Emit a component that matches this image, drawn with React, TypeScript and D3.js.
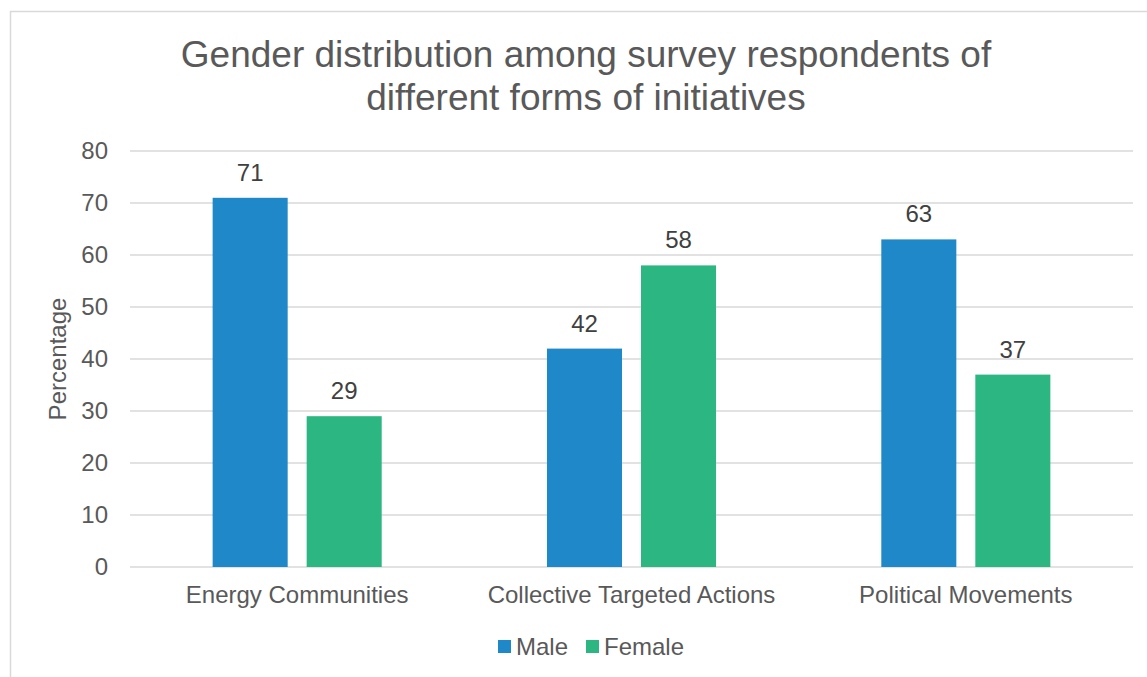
import React from "react";
import * as d3 from "d3";

const categories = ["Energy Communities", "Collective Targeted Actions", "Political Movements"];
const seriesNames = ["Male", "Female"];
const maleValues = [71, 42, 63];
const femaleValues = [29, 58, 37];
const yTicks = [0, 10, 20, 30, 40, 50, 60, 70, 80];
const titleLines = ["Gender distribution among survey respondents of", "different forms of initiatives"];
const yAxisTitle = "Percentage";

const colors = ["#1E88C8", "#2BB682"];
const FONT = "'Liberation Sans', Arial, sans-serif";
const TEXT = "#595959";
const GRID = "#D9D9D9";

export default function App() {
  const W = 1147, H = 677;
  const left = 130, right = 1133, top = 151, bottom = 567;
  const y = d3.scaleLinear().domain([0, 80]).range([bottom, top]);
  const x0 = d3.scaleBand<string>().domain(categories).range([left, right]).paddingInner(0).paddingOuter(0);
  const x1 = d3.scaleBand<string>().domain(seriesNames).range([0, x0.bandwidth()]).paddingInner(0.202).paddingOuter(0.879);
  const values = [maleValues, femaleValues];

  return (
    <svg width={W} height={H} style={{ position: "absolute", left: 0, top: 0, background: "#fff" }} fontFamily={FONT}>
      <rect x={0} y={0} width={W} height={H} fill="#fff" />
      <rect x={10.5} y={11.5} width={1180} height={700} fill="none" stroke={GRID} strokeWidth={1.5} />
      {titleLines.map((t, i) => (
        <text key={i} x={586} y={67 + i * 43} textAnchor="middle" fontSize={37} fill={TEXT}>{t}</text>
      ))}
      {yTicks.map((t) => (
        <g key={t}>
          <line x1={left} x2={right} y1={y(t)} y2={y(t)} stroke={GRID} strokeWidth={1.4} />
          <text x={108} y={y(t) + 8.3} textAnchor="end" fontSize={24} fill={TEXT}>{t}</text>
        </g>
      ))}
      <text transform={`translate(66,${(top + bottom) / 2}) rotate(-90)`} textAnchor="middle" fontSize={24} fill={TEXT}>{yAxisTitle}</text>
      {categories.map((c, ci) => (
        <g key={c}>
          {seriesNames.map((s, si) => {
            const v = values[si][ci];
            const bx = (x0(c) as number) + (x1(s) as number);
            return (
              <g key={s}>
                <rect x={bx} y={y(v)} width={x1.bandwidth()} height={y(0) - y(v)} fill={colors[si]} />
                <text x={bx + x1.bandwidth() / 2} y={y(v) - 17} textAnchor="middle" fontSize={24} fill="#404040">{v}</text>
              </g>
            );
          })}
          <text x={(x0(c) as number) + x0.bandwidth() / 2} y={603} textAnchor="middle" fontSize={24} fill={TEXT}>{c}</text>
        </g>
      ))}
      {seriesNames.map((s, i) => {
        const lx = [498, 586][i];
        return (
          <g key={s}>
            <rect x={lx} y={640} width={13} height={13} fill={colors[i]} />
            <text x={lx + 18} y={655} fontSize={24} fill={TEXT}>{s}</text>
          </g>
        );
      })}
    </svg>
  );
}
